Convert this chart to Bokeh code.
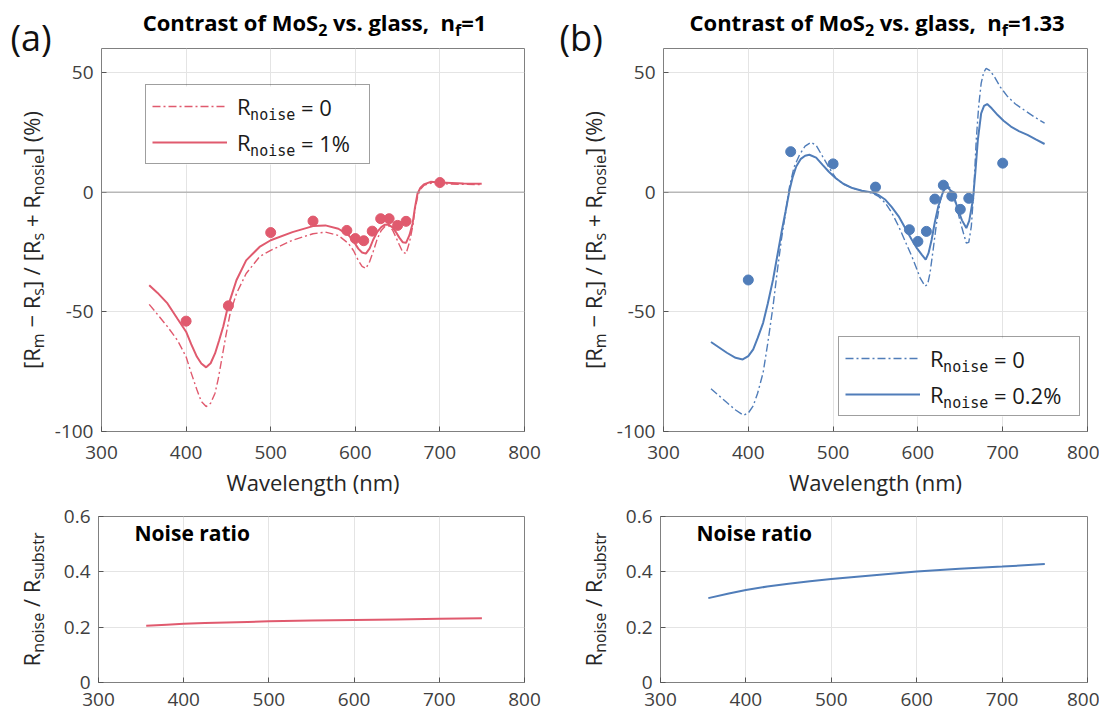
import glob, os, re, struct, math
from bokeh.plotting import figure
from bokeh.layouts import column, row
from bokeh.models import Label, Legend, LegendItem, Span, FixedTicker, Range1d, BoxAnnotation
from bokeh.core.properties import value
from bokeh.embed import file_html
from bokeh.resources import INLINE

# ------------------------------------------------------------------ data
x_ticks = [300, 400, 500, 600, 700, 800]
y_ticks_top = [-100, -50, 0, 50]
y_ticks_bot = [0, 0.2, 0.4, 0.6]

meas_wl = [400, 450, 500, 550, 590, 600, 610, 620, 630, 640, 650, 660, 700]
meas_a = [-53.9, -47.5, -16.9, -12.1, -16.0, -19.4, -20.3, -16.3, -11.1, -11.1, -13.9, -12.2, 4.0]
meas_b = [-36.7, 16.9, 11.8, 2.1, -15.7, -20.6, -16.4, -2.9, 2.9, -1.7, -7.2, -2.6, 12.1]

wl_a_solid = [356.4, 366, 378, 390, 400, 406, 412.8, 418, 423.7, 429, 434.2, 439, 444, 448, 452,
              459.5, 471, 486.8, 500, 525.7, 550, 564.6, 580, 592, 598, 603.5, 608, 612.5, 617,
              621, 626, 630.7, 635, 639, 644, 648, 652, 656, 660, 664, 667.7, 670.5, 673.5, 677,
              681, 689, 700, 728, 749.4]
c_a_solid = [-38.9, -42, -46.5, -53, -58.3, -63.5, -68.8, -71.6, -73.2, -71.5, -67.4, -62, -56,
             -50, -45, -36.8, -28.5, -22.9, -20.1, -16.7, -14.2, -13.9, -15.3, -18, -20.5, -23.6,
             -25.2, -25.7, -23.5, -20, -16.6, -14.6, -13.6, -13.5, -14.7, -16.7, -19, -20.9, -21.2,
             -18, -13.2, -6.5, -0.7, 1.8, 3.2, 4.3, 4.0, 3.6, 3.5]
wl_a_dash = [356.4, 366, 378, 390, 400, 406, 412.8, 418, 423.7, 429, 434.2, 438, 442, 447, 452,
             459.5, 471, 486.8, 500, 525.7, 550, 564.6, 580, 592, 598, 603.5, 608, 612.5, 617,
             621, 626, 630.7, 635, 639, 644, 648, 652, 656, 660, 664, 667.7, 670.5, 673.5, 677,
             681, 689, 700, 749.4]
c_a_dash = [-46.9, -51, -56.2, -62, -68.8, -75.5, -82.6, -87.5, -89.6, -88.2, -84, -78, -70, -60,
            -50.7, -42.4, -34, -27, -24.3, -20.1, -17.4, -16.7, -18.1, -21.5, -24.5, -28.5, -31,
            -31.9, -29, -25, -19.5, -16, -14.4, -13.9, -15.8, -18.8, -22, -25, -25.7, -21, -14.6,
            -7.5, -2.1, 1.2, 2.8, 3.7, 3.5, 3.1]

wl_b_solid = [356, 374.7, 385, 393.4, 400, 405.8, 411, 417.5, 423, 429.2, 434, 439, 444, 448.7,
              452.5, 456.5, 462, 467, 472, 480, 487.6, 495, 503.2, 512, 522.7, 534, 546, 554,
              561.7, 569, 577.3, 585, 592.8, 599, 604.5, 609.2, 612.5, 616.2, 620, 624, 628,
              631.8, 635.5, 639.6, 643.5, 647.4, 652, 657.1, 660.5, 664.9, 667.8, 670.7, 674.6,
              678, 681.7, 687, 694.1, 701, 709.7, 719, 729.2, 739, 749.4]
c_b_solid = [-62.6, -67.1, -69.2, -69.9, -68.5, -65.7, -61, -54.6, -46.5, -36.5, -27, -17.1, -8,
             1, 6.5, 10.7, 13.9, 15.2, 15.6, 14.4, 11.4, 8.5, 5.8, 3.5, 1.7, 0.6, -0.1, -1.3,
             -3.2, -6.2, -10.1, -15, -19.9, -23.5, -26.1, -28.2, -25.5, -19.9, -12.5, -6, -1.5,
             1.7, 1.8, 0.3, -3, -7.4, -11.8, -15, -12, -3.2, 8.5, 21.8, 32.9, 36, 36.8, 35,
             32.2, 29.8, 27.4, 25.5, 23.9, 22, 20.1]
wl_b_dash = [356, 374.7, 385, 394.2, 400, 405.8, 411, 417.5, 423, 429.2, 434, 439, 444, 448.7,
             454, 460.4, 467, 474, 480, 487.6, 495, 503.2, 512, 522.7, 534, 546, 554, 561.7,
             569, 577.3, 585, 592.8, 598, 602.6, 608.4, 611.5, 614.3, 618, 622, 626.5, 631.8,
             635.5, 639.6, 643.5, 647.4, 652, 657.1, 660, 663, 665.8, 668.8, 671.7, 674.6,
             677.5, 680.5, 685, 690.2, 697, 705.8, 715, 725.3, 737, 749.4]
c_b_dash = [-82.1, -87.9, -91, -93.2, -92.3, -89.3, -84, -75.4, -63, -47.6, -33.5, -19.9, -8.5,
            2.4, 10.5, 15.6, 19.2, 20.8, 19.6, 14.9, 10.4, 5.8, 3.4, 1.7, 0.5, -0.4, -1.9, -4.6,
            -8.5, -14.3, -20.5, -26.8, -31.5, -35.8, -39.3, -38.5, -33.8, -24, -12.9, -3.5, 2.4,
            2.6, 1, -3.3, -8.8, -15, -21.3, -21, -14.3, 0, 21.8, 36, 45.4, 50, 51.7, 50.8, 48.2,
            44, 39.9, 36.8, 34.3, 31.5, 28.8]

wl_ratio = [356, 380, 400, 425, 450, 475, 500, 550, 600, 650, 700, 750]
ratio_a = [0.205, 0.209, 0.212, 0.215, 0.217, 0.219, 0.221, 0.224, 0.226, 0.228, 0.230, 0.232]
ratio_b = [0.305, 0.322, 0.334, 0.347, 0.357, 0.366, 0.374, 0.388, 0.401, 0.411, 0.419, 0.428]

RED = "#E05A6E"
BLUE = "#507DB9"

# ------------------------------------------------------------------ font metrics
def parse_ttf(path):
    data = open(path, "rb").read()
    off0 = struct.unpack(">I", data[12:16])[0] if data[:4] == b"ttcf" else 0
    ntab = struct.unpack(">H", data[off0 + 4:off0 + 6])[0]
    tables = {}
    for i in range(ntab):
        rec = off0 + 12 + 16 * i
        tag = data[rec:rec + 4].decode("latin1")
        _, o, ln = struct.unpack(">III", data[rec + 4:rec + 16])
        tables[tag] = o
    head = tables["head"]
    upm = struct.unpack(">H", data[head + 18:head + 20])[0]
    hhea = tables["hhea"]
    nhm = struct.unpack(">H", data[hhea + 34:hhea + 36])[0]
    hm = tables["hmtx"]
    adv = [struct.unpack(">H", data[hm + 4 * i:hm + 4 * i + 2])[0] for i in range(nhm)]
    cm = tables["cmap"]
    n = struct.unpack(">H", data[cm + 2:cm + 4])[0]
    sub = None
    for i in range(n):
        pid, eid, o = struct.unpack(">HHI", data[cm + 4 + 8 * i:cm + 12 + 8 * i])
        fmt = struct.unpack(">H", data[cm + o:cm + o + 2])[0]
        if fmt == 4 and pid in (0, 3):
            sub = cm + o
            break
    seg2 = struct.unpack(">H", data[sub + 6:sub + 8])[0]
    seg = seg2 // 2
    ends = struct.unpack(">%dH" % seg, data[sub + 14:sub + 14 + seg2])
    starts = struct.unpack(">%dH" % seg, data[sub + 16 + seg2:sub + 16 + 2 * seg2])
    deltas = struct.unpack(">%dh" % seg, data[sub + 16 + 2 * seg2:sub + 16 + 3 * seg2])
    rpos = sub + 16 + 3 * seg2
    roffs = struct.unpack(">%dH" % seg, data[rpos:rpos + seg2])

    def gid(c):
        for i in range(seg):
            if ends[i] >= c:
                if starts[i] > c:
                    return 0
                if roffs[i] == 0:
                    return (c + deltas[i]) & 0xFFFF
                p = rpos + 2 * i + roffs[i] + 2 * (c - starts[i])
                g = struct.unpack(">H", data[p:p + 2])[0]
                return (g + deltas[i]) & 0xFFFF if g else 0
        return 0

    def em(t):
        w = 0
        for ch in t:
            g = gid(ord(ch))
            w += adv[min(g, nhm - 1)] if g else 0.57 * upm
        return w / upm
    em("R")
    return em


def load(pats):
    for pat in pats:
        for f in sorted(glob.glob(pat, recursive=True)):
            try:
                return parse_ttf(f)
            except Exception:
                pass
    return None

REG_FALLBACK = {" ": 532, "%": 1653, "(": 604, ")": 604, "+": 1171, ",": 502, "-": 659, ".": 545,
                "/": 752, "=": 1171, "[": 612, "]": 612, "R": 1300, "C": 1292, "M": 1849, "S": 1114,
                "N": 1599, "a": 1139, "b": 1255, "c": 975, "d": 1255, "e": 1149, "f": 694, "g": 1122,
                "h": 1257, "i": 518, "l": 518, "m": 1905, "n": 1257, "o": 1237, "r": 836, "s": 977,
                "t": 723, "u": 1257, "v": 1026, "\u2212": 1171}

def fallback(scale):
    def em(t):
        return sum(REG_FALLBACK.get(ch, 1171 if ch.isdigit() else 1150) for ch in t) / 2048 * scale
    return em

roots = ["/usr/share/fonts", "/usr/local/share/fonts", os.path.expanduser("~/.fonts")]
EM_REG = load([r + "/**/OpenSans-Regular.ttf" for r in roots]) or fallback(1.0)
_b = load([r + "/**/OpenSans-Bold.ttf" for r in roots])
EM_BOLD = _b if _b else (lambda t: EM_REG(t) * 1.06)

OS = "Open Sans"
MONO = "DejaVu Sans Mono"
# the label anchor behaves as the middle of the font box: distance above the baseline (em)
MID = {OS: 0.388, MONO: 0.346}


def text_w(t, font, size, bold):
    if font == MONO:
        return len(t) * 0.602 * size
    return (EM_BOLD(t) if bold else EM_REG(t)) * size


def rich(p, x, y, segs, angle=0.0, align="left", color="#262626"):
    """Place text pieces on a common baseline (x, y) in frame pixels."""
    total = sum(text_w(t, f, s, b) for t, f, s, b, dy in segs)
    adv = -total / 2 if align == "center" else 0.0
    ca, sa = math.cos(angle), math.sin(angle)
    for t, f, s, b, dy in segs:
        up = dy + MID[f] * s
        for m in re.finditer(r"\S+(?: \S+)*", t):
            a = adv + text_w(t[:m.start()], f, s, b)
            px = x + a * ca - up * sa
            py = y + a * sa + up * ca
            p.add_layout(Label(x=px, y=py, x_units="screen", y_units="screen", text=m.group(0),
                               text_font=f, text_font_size="%dpx" % s, level="overlay",
                               text_font_style="bold" if b else "normal", text_color=color,
                               angle=angle, text_align="left", text_baseline="alphabetic"))
        adv += text_w(t, f, s, b)

# ------------------------------------------------------------------ figures


def text_fig(w, h, ml=0, mr=0, mt=0, mb=0):
    p = figure(width=w, height=h, x_range=Range1d(0, 1), y_range=Range1d(0, 1),
               min_border_left=ml, min_border_right=mr, min_border_top=mt, min_border_bottom=mb,
               x_axis_location=None, y_axis_location=None, title=None,
               output_backend="svg", toolbar_location=None)
    p.xgrid.visible = False
    p.ygrid.visible = False
    p.outline_line_color = None
    return p


def base_fig(w, h, ml, mr, mt, mb, yr, yticks, ylabels, xlabel=None, x_standoff=14):
    p = figure(width=w, height=h, x_range=Range1d(300, 800), y_range=Range1d(*yr), title=None,
               min_border_left=ml, min_border_right=mr, min_border_top=mt, min_border_bottom=mb,
               output_backend="svg", toolbar_location=None)
    p.background_fill_color = "white"
    p.outline_line_color = "#808080"
    p.outline_line_width = 1
    p.xaxis.ticker = FixedTicker(ticks=x_ticks)
    p.yaxis.ticker = FixedTicker(ticks=yticks)
    p.yaxis.major_label_overrides = dict(zip(yticks, ylabels))
    for ax in (p.xaxis[0], p.yaxis[0]):
        ax.axis_line_color = None
        ax.major_tick_in = 5
        ax.major_tick_out = 0
        ax.major_tick_line_color = "#555555"
        ax.minor_tick_line_color = None
        ax.major_label_text_font = OS
        ax.major_label_text_font_size = "19px"
        ax.major_label_text_color = "#404040"
    p.xaxis.major_label_standoff = x_standoff
    p.yaxis.major_label_standoff = 8
    if xlabel:
        p.xaxis.axis_label = xlabel
        p.xaxis.axis_label_text_font = OS
        p.xaxis.axis_label_text_font_size = "22px"
        p.xaxis.axis_label_text_font_style = "normal"
        p.xaxis.axis_label_text_color = "#262626"
        p.xaxis.axis_label_standoff = 5
    p.grid.grid_line_color = "#e4e4e4"
    p.grid.grid_line_width = 1
    return p


def contrast_panel(w, mr, wl_s, c_s, wl_d, c_d, meas, color, leg_left, leg_bottom, leg_w, lbl2):
    p = base_fig(w, 454, 47, mr, 1, 70, (-100, 60), y_ticks_top,
                 ["-100", "-50", "0", "50"], xlabel="Wavelength (nm)")
    p.add_layout(Span(location=0, dimension="width", line_color="#9e9e9e", line_width=1))
    r_d = p.line(wl_d, c_d, line_color=color, line_width=1.4, line_dash="8 3 2 3")
    r_s = p.line(wl_s, c_s, line_color=color, line_width=2)
    p.scatter(meas_wl, meas, size=10, marker="circle", fill_color=color, line_color=color)
    pad, gw, gh, sp, stand = 6, 75, 26, 6, 10
    H = 2 * pad + 2 * 30 + sp
    lw = leg_w - 2 * pad - gw - stand
    p.add_layout(BoxAnnotation(left=leg_left, right=leg_left + leg_w, bottom=leg_bottom,
                               top=leg_bottom + H, left_units="screen", right_units="screen",
                               bottom_units="screen", top_units="screen", fill_color="white",
                               fill_alpha=1.0, line_color=None))
    tx = leg_left + pad + gw + stand + text_w("R", OS, 22, False)
    for i, tail in enumerate([" = 0", lbl2]):
        cy = leg_bottom + H - pad - 15 - i * (30 + sp)
        rich(p, tx, cy - 8.5, [("noise", MONO, 15, False, -4.5), (tail, OS, 22, False, 0)],
             color="#1a1a1a")
    leg = Legend(items=[LegendItem(label=value("R"), renderers=[r_d]),
                        LegendItem(label=value("R"), renderers=[r_s])],
                 location=(leg_left, leg_bottom), padding=pad, spacing=sp, glyph_width=gw,
                 glyph_height=gh, label_width=lw, label_height=gh, label_standoff=stand,
                 label_text_font=OS, label_text_font_size="22px", label_text_color="#1a1a1a",
                 border_line_color="#404040", border_line_width=1,
                 background_fill_alpha=0.0, margin=0)
    p.add_layout(leg)
    return p


def title_strip(w, mr, cx, tail):
    p = text_fig(w, 47, ml=47, mr=mr)
    rich(p, cx, 17, [("Contrast of MoS", OS, 22, True, 0), ("2", OS, 16, True, -6),
                     (" vs. glass,  n", OS, 22, True, 0), ("f", OS, 16, True, -6),
                     (tail, OS, 22, True, 0)], align="center", color="#000000")
    return p


def left_top(w, tag, tag_x, base_x):
    p = text_fig(w, 501)
    rich(p, tag_x, 450, [(tag, OS, 36, False, 0)], color="#111111")
    rich(p, base_x, 261.5, [("[R", OS, 22, False, 0), ("m", OS, 16, False, -5),
                            (" \u2212 R", OS, 22, False, 0), ("s", OS, 16, False, -5),
                            ("] / [R", OS, 22, False, 0), ("s", OS, 16, False, -5),
                            (" + R", OS, 22, False, 0), ("nosie", OS, 16, False, -5),
                            ("] (%)", OS, 22, False, 0)], angle=math.pi / 2, align="center")
    return p


def left_bot(w, base_x):
    p = text_fig(w, 214, mt=15, mb=33)
    rich(p, base_x, 83, [("R", OS, 22, False, 0), ("noise", OS, 16, False, -5),
                         (" / R", OS, 22, False, 0), ("substr", OS, 16, False, -5)],
         angle=math.pi / 2, align="center")
    return p


def ratio_panel(w, mr, ratio, color):
    p = base_fig(w, 214, 47, mr, 15, 33, (0, 0.6), y_ticks_bot, ["0", "0.2", "0.4", "0.6"],
                 x_standoff=10)
    p.line(wl_ratio, ratio, line_color=color, line_width=2)
    rich(p, 36, 141, [("Noise ratio", OS, 21, True, 0)], color="#000000")
    return p


pA = contrast_panel(502, 29, wl_a_solid, c_a_solid, wl_a_dash, c_a_dash, meas_a, RED,
                    44, 267, 223, " = 1%")
pB = contrast_panel(486, 12, wl_b_solid, c_b_solid, wl_b_dash, c_b_dash, meas_b, BLUE,
                    175, 15, 240, " = 0.2%")
tA = title_strip(502, 29, 213, "=1")
tB = title_strip(486, 12, 213.5, "=1.33")
lA = left_top(51, "(a)", 10, 39)
lB = left_top(60, "(b)", 6, 48)
pC = ratio_panel(502, 29, ratio_a, RED)
pD = ratio_panel(486, 12, ratio_b, BLUE)
lC = left_bot(51, 39)
lD = left_bot(60, 48)

layout = column(
    row(lA, column(tA, pA), lB, column(tB, pB)),
    row(lC, pC, lD, pD),
)
open("out.html", "w").write(file_html(layout, INLINE))
